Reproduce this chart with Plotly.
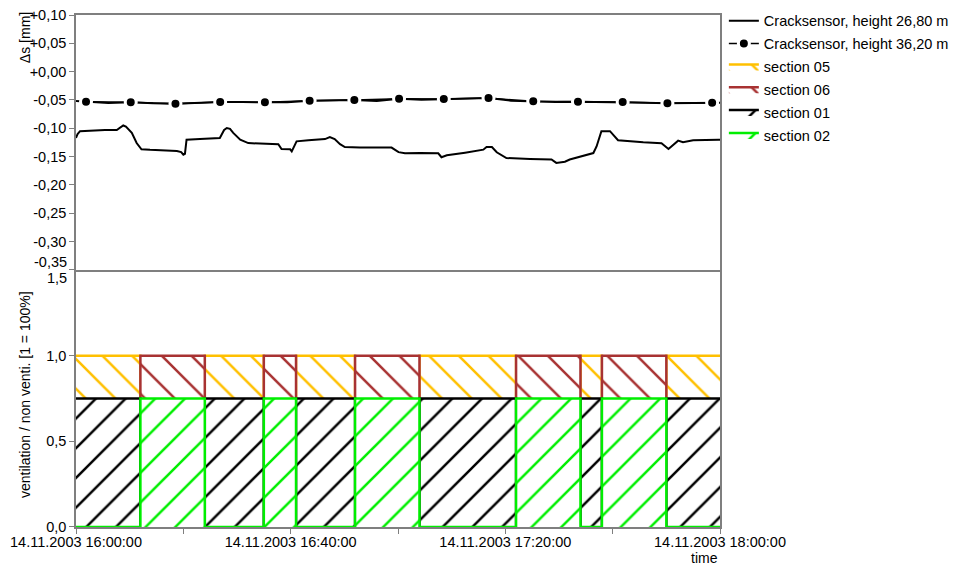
import plotly.graph_objects as go

DAY = "2003-11-14 "

# Crack sensor at 26,80 m: time of reading and displacement [mm]
t_low = ["16:00:00", "16:00:18", "16:00:45", "16:02:36", "16:05:24", "16:07:36", "16:08:12",
         "16:08:48", "16:09:18", "16:10:24", "16:11:18", "16:12:12", "16:13:48", "16:16:36",
         "16:18:48", "16:19:36", "16:20:00", "16:20:18", "16:20:36", "16:23:06", "16:25:54",
         "16:26:48", "16:27:36", "16:28:06", "16:28:42", "16:29:18", "16:30:36", "16:32:06",
         "16:34:18", "16:37:42", "16:38:18", "16:39:54", "16:40:12", "16:41:06", "16:43:18",
         "16:46:24", "16:47:18", "16:48:12", "16:49:12", "16:50:06", "16:52:54", "16:58:48",
         "17:00:06", "17:01:18", "17:04:06", "17:07:30", "17:08:06", "17:09:06", "17:12:30",
         "17:15:54", "17:16:30", "17:17:30", "17:18:24", "17:20:12", "17:24:36", "17:28:36",
         "17:29:30", "17:31:06", "17:32:00", "17:36:24", "17:37:00", "17:37:54", "17:39:30",
         "17:40:06", "17:41:00", "17:45:42", "17:49:06", "17:50:24", "17:52:12", "17:53:06",
         "17:55:00", "17:59:42", "18:00:00"]
ds_low = [-0.117, -0.110, -0.105, -0.104, -0.103, -0.103, -0.099,
          -0.095, -0.097, -0.108, -0.126, -0.137, -0.138, -0.139,
          -0.140, -0.142, -0.1465, -0.145, -0.120, -0.119, -0.118,
          -0.117, -0.103, -0.0995, -0.101, -0.108, -0.120, -0.126,
          -0.127, -0.128, -0.1365, -0.137, -0.1406, -0.123, -0.121,
          -0.119, -0.1153, -0.119, -0.128, -0.133, -0.134, -0.134,
          -0.142, -0.144, -0.1436, -0.144, -0.151, -0.1477, -0.143,
          -0.1377, -0.133, -0.133, -0.1423, -0.1524, -0.154, -0.155,
          -0.161, -0.159, -0.155, -0.1436, -0.132, -0.105, -0.105,
          -0.111, -0.121, -0.1247, -0.1265, -0.1365, -0.1218, -0.1247,
          -0.1212, -0.120, -0.120]

# Crack sensor at 36,20 m: readings, with a symbol on every other one
t_high = ["16:00:00", "16:01:52", "16:06:02", "16:10:12", "16:14:22", "16:18:32", "16:22:42",
          "16:26:52", "16:31:02", "16:35:12", "16:39:22", "16:43:32", "16:47:42", "16:51:52",
          "16:56:02", "17:00:12", "17:04:22", "17:08:32", "17:12:42", "17:16:52", "17:21:02",
          "17:25:12", "17:29:22", "17:33:32", "17:37:42", "17:41:52", "17:46:02", "17:50:12",
          "17:54:22", "17:58:32", "18:00:00"]
ds_high = [-0.0518, -0.0530, -0.0553, -0.0539, -0.0559, -0.0565, -0.0547,
           -0.0535, -0.0537, -0.0540, -0.0540, -0.0512, -0.0512, -0.0500,
           -0.0518, -0.0477, -0.0494, -0.0482, -0.0482, -0.0467, -0.0512,
           -0.0523, -0.0535, -0.0530, -0.0535, -0.0535, -0.0547, -0.0559,
           -0.0559, -0.0547, -0.0547]
high_symbol = [0, 1, 0, 1, 0, 1, 0, 1, 0, 1, 0, 1, 0, 1, 0, 1, 0, 1, 0, 1, 0,
               1, 0, 1, 0, 1, 0, 1, 0, 1, 0]

# Ventilation schedule: level of each section from each switching time on
t_switch = ["16:00:00", "16:12:00", "16:24:00", "16:35:00", "16:41:00", "16:52:00",
            "17:04:00", "17:22:00", "17:34:00", "17:38:00", "17:50:00", "18:00:00"]
section05 = [1, 0, 1, 0, 1, 0, 1, 0, 1, 0, 1, 1]
section06 = [0, 1, 0, 1, 0, 1, 0, 1, 0, 1, 0, 0]
section01 = [0.75, 0, 0.75, 0, 0.75, 0, 0.75, 0, 0.75, 0, 0.75, 0.75]
section02 = [0, 0.75, 0, 0.75, 0, 0.75, 0, 0.75, 0, 0.75, 0, 0]

# Axis ticks
ds_ticks = [0.10, 0.05, 0.0, -0.05, -0.10, -0.15, -0.20, -0.25, -0.30, -0.35]
ds_labels = ["+0,10", "+0,05", "+0,00", "-0,05", "-0,10", "-0,15", "-0,20", "-0,25",
             "-0,30", "-0,35"]
vent_ticks = [0.0, 0.5, 1.0, 1.5]
vent_labels = ["0,0", "0,5", "1,0", "1,5"]
time_ticks = ["16:00:00", "16:20:00", "16:40:00", "17:00:00", "17:20:00", "17:40:00",
              "18:00:00"]
time_labels = ["14.11.2003 16:00:00", "", "14.11.2003 16:40:00", "",
               "14.11.2003 17:20:00", "", "14.11.2003 18:00:00"]

FONT = "Liberation Sans, Arial, sans-serif"
FS = 14.5
AXIS_GREY = "#7f7f7f"


def stamp(times):
    return [DAY + t for t in times]


fig = go.Figure()

fig.add_trace(go.Scatter(
    x=stamp(t_low), y=ds_low, mode="lines", name="Cracksensor, height 26,80 m",
    line=dict(color="black", width=2), xaxis="x", yaxis="y", legendgroup="g1"))

# 36,20 m sensor: full trace as a line, symbols on the marked readings
t_high_sym = [t for t, s in zip(t_high, high_symbol) if s]
ds_high_sym = [v for v, s in zip(ds_high, high_symbol) if s]
fig.add_trace(go.Scatter(
    x=stamp(t_high), y=ds_high, mode="lines", line=dict(color="black", width=2),
    xaxis="x", yaxis="y", legendgroup="g2", showlegend=False, hoverinfo="skip"))
fig.add_trace(go.Scatter(
    x=stamp(t_high_sym), y=ds_high_sym, mode="lines+markers",
    name="Cracksensor, height 36,20 m",
    line=dict(color="black", width=1.5),
    marker=dict(color="black", size=11, line=dict(color="white", width=3)),
    xaxis="x", yaxis="y", legendgroup="g2"))

sections = [
    ("section 05", section05, "#FFC000", "\\"),
    ("section 06", section06, "#A83232", "\\"),
    ("section 01", section01, "black", "/"),
    ("section 02", section02, "#00EE00", "/"),
]
for i, (name, level, color, shape) in enumerate(sections):
    fig.add_trace(go.Scatter(
        x=stamp(t_switch), y=level, mode="lines", name=name,
        line=dict(color=color, width=2.5, shape="hv"),
        fill="tozeroy", fillcolor="white",
        fillpattern=dict(shape=shape, fgcolor=color, bgcolor="white",
                         size=21, solidity=0.12, fillmode="replace"),
        xaxis="x2", yaxis="y2", legendgroup="g%d" % (i + 3)))

# Labels at the junction of the two panels sit slightly inside each panel
JUNCTION_DS = -0.35
JUNCTION_VENT = 1.5
ds_axis_labels = ["" if v == JUNCTION_DS else s for v, s in zip(ds_ticks, ds_labels)]
vent_axis_labels = ["" if v == JUNCTION_VENT else s for v, s in zip(vent_ticks, vent_labels)]

annotations = [
    dict(text=ds_labels[ds_ticks.index(JUNCTION_DS)], x=0, xref="paper", y=JUNCTION_DS,
         yref="y", xanchor="right", yanchor="middle", xshift=-7, yshift=8,
         showarrow=False, font=dict(family=FONT, size=FS, color="black")),
    dict(text=vent_labels[vent_ticks.index(JUNCTION_VENT)], x=0, xref="paper",
         y=JUNCTION_VENT, yref="y2", xanchor="right", yanchor="middle", xshift=-7,
         yshift=-8, showarrow=False, font=dict(family=FONT, size=FS, color="black")),
    dict(text="Δs [mm]", x=-0.079, xref="paper", y=0.955, yref="paper", textangle=-90,
         xanchor="center", yanchor="middle", showarrow=False,
         font=dict(family=FONT, size=14, color="black")),
    dict(text="ventilation / non venti. [1 = 100%]", x=-0.079, xref="paper", y=0.258,
         yref="paper", textangle=-90, xanchor="center", yanchor="middle", showarrow=False,
         font=dict(family=FONT, size=14, color="black")),
    dict(text="time", x=1.0, xref="paper", y=0, yref="paper", xanchor="right",
         yanchor="top", yshift=-21, xshift=0, showarrow=False,
         font=dict(family=FONT, size=14, color="black")),
]

x_range = [DAY + "16:00:00", DAY + "18:00:00"]
common_x = dict(type="date", range=x_range, showgrid=False, zeroline=False,
                linecolor=AXIS_GREY, linewidth=1.5, showline=True)

fig.update_layout(
    width=954, height=567,
    margin=dict(l=76, r=234, t=15, b=40, autoexpand=False),
    paper_bgcolor="white", plot_bgcolor="white",
    font=dict(family=FONT, size=FS, color="black"),
    showlegend=True,
    legend=dict(x=1.006, y=1.02, xanchor="left", yanchor="top", xref="paper", yref="paper",
                bgcolor="rgba(0,0,0,0)", borderwidth=0, traceorder="grouped",
                tracegroupgap=1, font=dict(family=FONT, size=FS, color="black"),
                itemwidth=30),
    xaxis=dict(common_x, domain=[0, 1], anchor="y", showticklabels=False, ticks="",
               mirror=True),
    yaxis=dict(domain=[0.502, 1], range=[-0.35, 0.10], tickvals=ds_ticks,
               ticktext=ds_axis_labels, ticks="outside", ticklen=5, tickcolor=AXIS_GREY,
               showgrid=False, zeroline=False, showline=True, mirror=True,
               linecolor=AXIS_GREY, linewidth=1.5, anchor="x"),
    xaxis2=dict(common_x, domain=[0, 1], anchor="y2", tickvals=stamp(time_ticks),
                ticktext=time_labels, ticks="outside", ticklen=5, tickcolor=AXIS_GREY,
                ticklabelstandoff=-4, matches="x"),
    yaxis2=dict(domain=[0, 0.502], range=[0, 1.5], tickvals=vent_ticks,
                ticktext=vent_axis_labels, ticks="outside", ticklen=5,
                tickcolor=AXIS_GREY, showgrid=False, zeroline=False, showline=True,
                mirror=True, linecolor=AXIS_GREY, linewidth=1.5, anchor="x2"),
    annotations=annotations,
)

fig.write_html("out.html")
